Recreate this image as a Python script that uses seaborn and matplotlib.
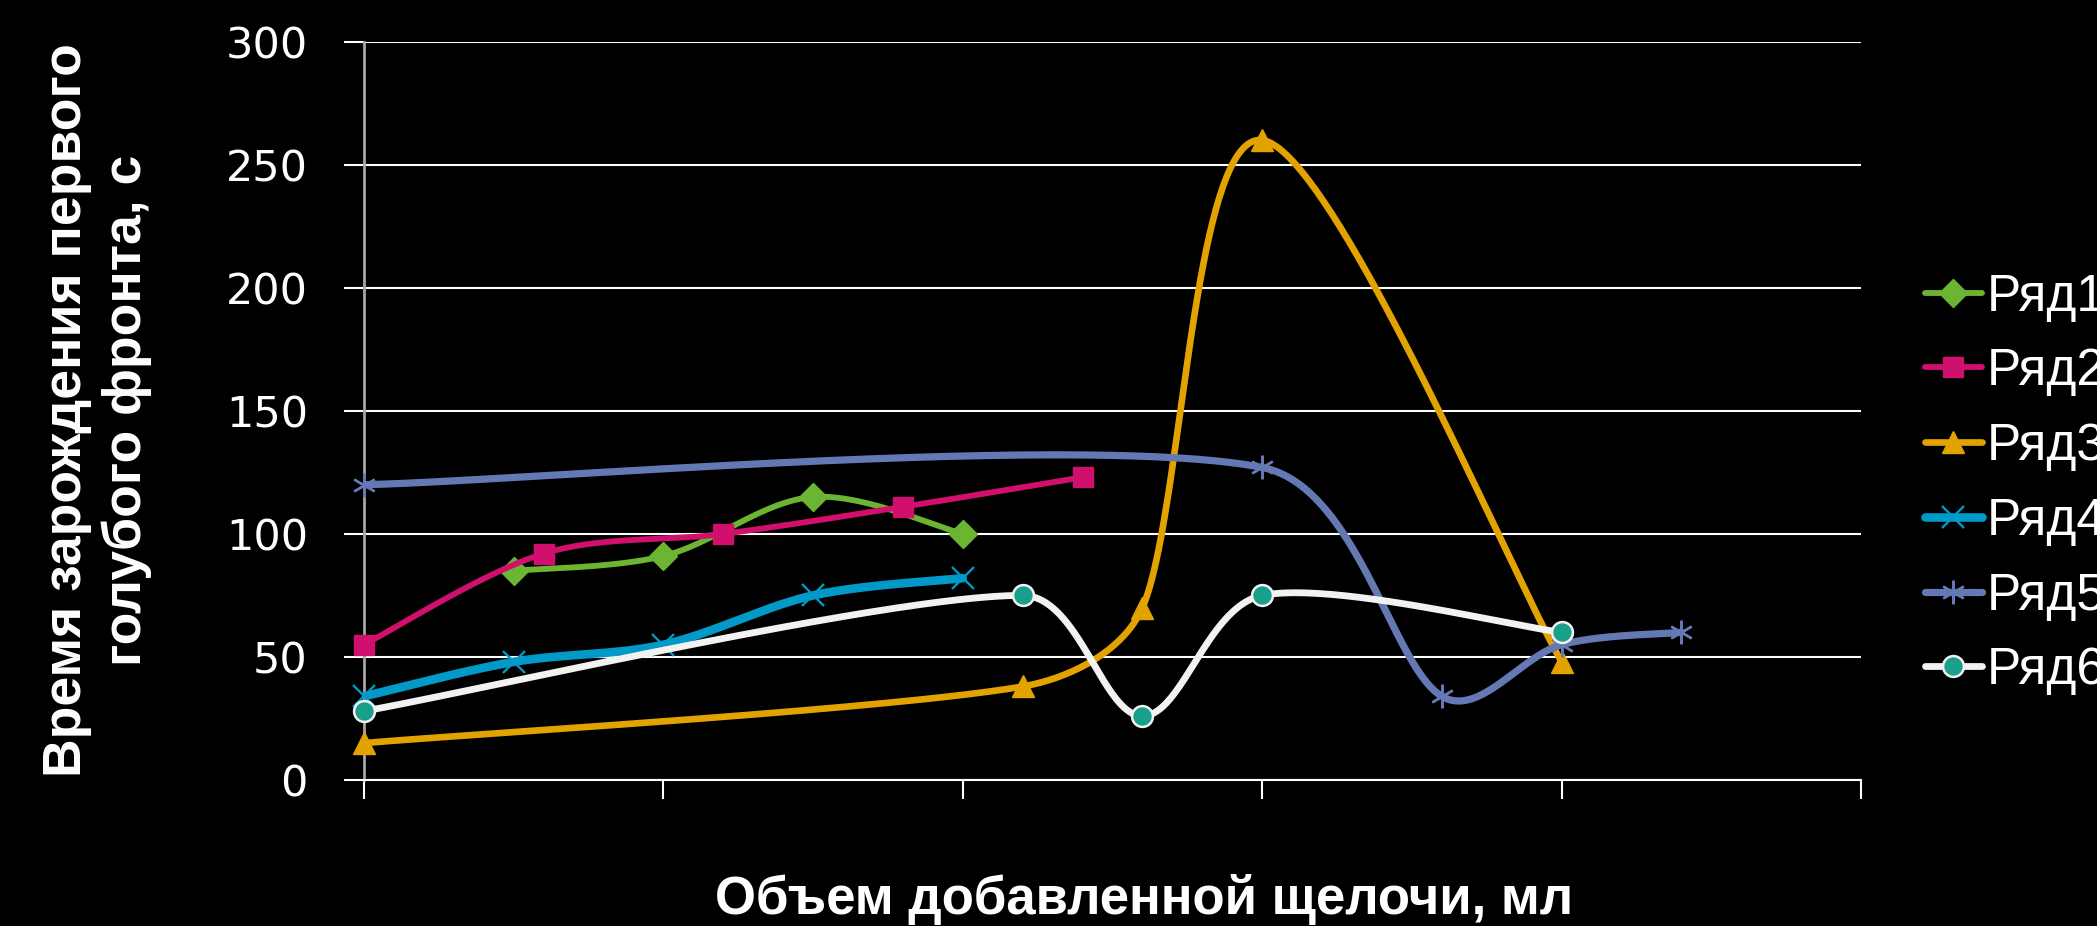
import numpy as np
import pandas as pd
import matplotlib
matplotlib.use("Agg")
import matplotlib.pyplot as plt
import seaborn as sns
from matplotlib.lines import Line2D

# ---- data -------------------------------------------------------------
series_names = ["Ряд1", "Ряд2", "Ряд3", "Ряд4", "Ряд5", "Ряд6"]

x1 = [0.5, 1.0, 1.5, 2.0]
y1 = [85, 91, 115, 100]

x2 = [0.0, 0.6, 1.2, 1.8, 2.4]
y2 = [55, 92, 100, 111, 123]

x3 = [0.0, 2.2, 2.6, 3.0, 4.0]
y3 = [15, 38, 70, 260, 48]

x4 = [0.0, 0.5, 1.0, 1.5, 2.0]
y4 = [34, 48, 55, 75, 82]

x5 = [0.0, 3.0, 3.6, 4.0, 4.4]
y5 = [120, 127, 34, 55, 60]

x6 = [0.0, 2.2, 2.6, 3.0, 4.0]
y6 = [28, 75, 26, 75, 60]

y_ticks = [0, 50, 100, 150, 200, 250, 300]
x_ticks = [0, 1, 2, 3, 4, 5]

x_label = "Объем добавленной щелочи, мл"
y_label = "Время зарождения первого\nголубого фронта, с"

# ---- styling ----------------------------------------------------------
sns.set_theme(style="dark")
plt.rcParams["font.family"] = ["Liberation Sans", "DejaVu Sans"]

W, H, DPI = 2097, 926, 100
fig = plt.figure(figsize=(W / DPI, H / DPI), dpi=DPI, facecolor="black")
ax_left, ax_right = 364 / W, 1861 / W
ax_bottom, ax_top = 1 - 780 / H, 1 - 41.7 / H
ax = fig.add_axes([ax_left, ax_bottom, ax_right - ax_left, ax_top - ax_bottom])
ax.set_facecolor("black")

XMAX, YMAX = 5, 300
# screen scale (pixels per data unit) used by the smoothing
SX = (1861 - 364) / XMAX
SY = (780 - 41.7) / YMAX


def _limit(handle, seg_len):
    """Keep a Bezier handle no longer than a third of its segment."""
    n = np.hypot(*handle)
    lim = seg_len / 3.0
    if n > lim and n > 0:
        handle = handle * (lim / n)
    return handle


def smooth_curve(xs, ys, n=80):
    """Cubic Bezier smoothing through every point (Catmull-Rom style tangents)."""
    P = np.column_stack([np.asarray(xs, float) * SX, np.asarray(ys, float) * SY])
    m = len(P)
    pts = [P[0]]
    t = np.linspace(0, 1, n)[1:, None]
    for i in range(m - 1):
        p0 = P[i - 1] if i > 0 else P[i]
        p1, p2 = P[i], P[i + 1]
        p3 = P[i + 2] if i + 2 < m else P[i + 1]
        seg = np.hypot(*(p2 - p1))
        c1 = p1 + _limit((p2 - p0) / 6.0, seg)
        c2 = p2 - _limit((p3 - p1) / 6.0, seg)
        curve = ((1 - t) ** 3) * p1 + 3 * ((1 - t) ** 2) * t * c1 \
            + 3 * (1 - t) * (t ** 2) * c2 + (t ** 3) * p2
        pts.extend(curve)
    pts = np.array(pts)
    return pts[:, 0] / SX, pts[:, 1] / SY


styles = [
    dict(color="#6CB533", lw=4.2, marker="D", ms=14, mfc="#6CB533", mec="#6CB533", mew=1),
    dict(color="#D0106C", lw=4.2, marker="s", ms=15, mfc="#D0106C", mec="#D0106C", mew=1),
    dict(color="#E2A200", lw=4.8, marker="^", ms=16, mfc="#E2A200", mec="#E2A200", mew=1),
    dict(color="#0099C8", lw=6.2, marker="x", ms=16, mfc="#0099C8", mec="#0099C8", mew=1.7),
    dict(color="#6479B4", lw=5.2, marker=(6, 2, 0), ms=17, mfc="#6479B4", mec="#6479B4", mew=1.7),
    dict(color="#F2F2F2", lw=4.9, marker="o", ms=15, mfc="#18A08A", mec="#F2F2F2", mew=1.8),
]

all_x = [x1, x2, x3, x4, x5, x6]
all_y = [y1, y2, y3, y4, y5, y6]

for k, (name, xs, ys, st) in enumerate(zip(series_names, all_x, all_y, styles)):
    cx, cy = smooth_curve(xs, ys)
    curve = pd.DataFrame({"x": cx, "y": cy})
    sns.lineplot(data=curve, x="x", y="y", sort=False, estimator=None,
                 color=st["color"], linewidth=st["lw"], ax=ax,
                 zorder=3 + 2 * k, solid_capstyle="round")
    pts = pd.DataFrame({"x": xs, "y": ys})
    sns.lineplot(data=pts, x="x", y="y", sort=False, estimator=None,
                 linestyle="none", marker=st["marker"], markersize=st["ms"],
                 markerfacecolor=st["mfc"], markeredgecolor=st["mec"],
                 markeredgewidth=st["mew"], color=st["color"], ax=ax,
                 zorder=4 + 2 * k, clip_on=False)

ax.set_xlim(0, XMAX)
ax.set_ylim(0, YMAX)
ax.set_xticks(x_ticks)
ax.set_xticklabels([""] * len(x_ticks))
ax.set_yticks(y_ticks)
ax.set_yticklabels([str(v) for v in y_ticks], family="DejaVu Sans",
                   fontsize=31, color="white")
ax.set_xlabel("")
ax.set_ylabel("")

ax.grid(False)
ax.yaxis.grid(True, color="white", linewidth=1.5)
ax.set_axisbelow(True)
ax.tick_params(axis="y", direction="out", length=14.4, width=1.5,
               color="white", pad=26, left=True)
ax.tick_params(axis="x", direction="out", length=13.5, width=1.5,
               color="white", bottom=True)

for side in ("top", "right"):
    ax.spines[side].set_visible(False)
ax.spines["left"].set_color("#A6A6A6")
ax.spines["left"].set_linewidth(2.0)
ax.spines["bottom"].set_color("white")
ax.spines["bottom"].set_linewidth(1.5)

# axis titles
fig.text(97 / W, 1 - 410 / H, y_label, rotation=90, ha="center", va="center",
         fontsize=38.5, fontweight="bold", color="white", linespacing=1.22,
         multialignment="center")
fig.text(1144 / W, 1 - 914 / H, x_label, ha="center", va="baseline",
         fontsize=38, fontweight="bold", color="white")

# legend
handles = [Line2D([], [], color=st["color"], lw=st["lw"], marker=st["marker"],
                  markersize=st["ms"], markerfacecolor=st["mfc"],
                  markeredgecolor=st["mec"], markeredgewidth=st["mew"],
                  solid_capstyle="round")
           for st in styles]
leg = fig.legend(handles, series_names, loc="center left",
                 bbox_to_anchor=(1925 / W, 1 - 484 / H),
                 bbox_transform=fig.transFigure, frameon=False,
                 fontsize=37, handlelength=1.1, handletextpad=0.1,
                 labelspacing=0.5, borderpad=0, borderaxespad=0,
                 labelcolor="white")

fig.savefig("out.png", dpi=DPI, facecolor="black")
